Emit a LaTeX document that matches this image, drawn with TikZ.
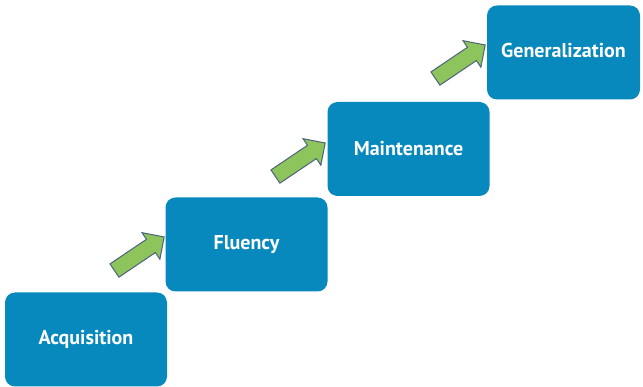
\documentclass[tikz,border=0pt]{standalone}
\usepackage{fontspec}
\setmainfont{PT Sans}
\usetikzlibrary{shapes.arrows}
\definecolor{stageblue}{RGB}{8,137,190}
\definecolor{stepgreen}{RGB}{141,196,92}
\definecolor{stepedge}{RGB}{75,98,128}
\tikzset{
  stage/.style={rectangle,rounded corners=10pt,fill=stageblue,text=white,
    minimum width=162pt,minimum height=94pt,inner sep=0pt,font=\bfseries\fontsize{20}{24}\selectfont},
  steparrow/.style={single arrow,fill=stepgreen,draw=stepedge,line width=1pt,
    minimum height=60pt,inner xsep=0pt,inner ysep=7.5pt,single arrow head extend=8pt,
    rotate=34}
}
\begin{document}
\begin{tikzpicture}[x=1pt,y=-1pt]
      \useasboundingbox (0,0) rectangle (643,387);
      \node[stage] (acq) at (86,339.5) {Acquisition};
      \node[stage] (flu) at (246.5,244.5) {Fluency};
      \node[stage] (mai) at (408.5,149) {Maintenance};
      \node[stage,minimum width=153pt] (gen) at (563.5,52.5) {\raisebox{5pt}{Generalization}};
      \node[steparrow] (a1) at (136,256) {};
      \node[steparrow] (a2) at (297,162) {};
      \node[steparrow] (a3) at (457,64) {};
\end{tikzpicture}
\end{document}
